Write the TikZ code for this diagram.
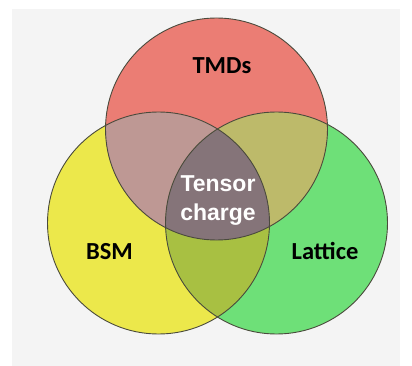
\documentclass[tikz,border=0pt]{standalone}
\usepackage{fontspec}
\setmainfont{Carlito}
\newfontfamily\midfont{Liberation Sans}
\definecolor{bg}{HTML}{F4F4F4}
\definecolor{cred}{HTML}{EB7D74}
\definecolor{cyel}{HTML}{ECE84B}
\definecolor{cgrn}{HTML}{6EE078}
\definecolor{cry}{HTML}{BE9894}
\definecolor{crg}{HTML}{BDBA6A}
\definecolor{cyg}{HTML}{A8C042}
\definecolor{cmid}{HTML}{857479}
\definecolor{edge}{HTML}{4A4A3C}
\tikzset{
  lbl/.style={font=\bfseries\fontsize{24.5}{26}\selectfont, text=black},
  midlbl/.style={font=\midfont\bfseries\fontsize{23}{29}\selectfont, text=white, align=center},
  rim/.style={draw=edge, line width=0.9pt}
}
\begin{document}
\begin{tikzpicture}[x=1pt,y=-1pt]
\useasboundingbox (0,0) rectangle (412,366);
\fill[white] (0,0) rectangle (412,366);
\fill[bg] (12,9) rectangle (400,366);
\def\R{111}
\coordinate (cr) at (216.5,129);
\coordinate (cy) at (158.5,223);
\coordinate (cg) at (276.5,223);
% base fills
\fill[cyel] (cy) circle (\R);
\fill[cgrn] (cg) circle (\R);
\fill[cred] (cr) circle (\R);
% pairwise overlaps
\begin{scope}
  \clip (cr) circle (\R);
  \fill[cry] (cy) circle (\R);
\end{scope}
\begin{scope}
  \clip (cr) circle (\R);
  \fill[crg] (cg) circle (\R);
\end{scope}
\begin{scope}
  \clip (cy) circle (\R);
  \fill[cyg] (cg) circle (\R);
\end{scope}
\begin{scope}
  \clip (cr) circle (\R);
  \clip (cy) circle (\R);
  \fill[cmid] (cg) circle (\R);
\end{scope}
% outlines
\draw[rim] (cy) circle (\R);
\draw[rim] (cg) circle (\R);
\draw[rim] (cr) circle (\R);
% labels
\node[lbl] (tmds) at (222,66) {TMDs};
\node[lbl] (bsm) at (109.5,252) {BSM};
\node[lbl] (lat) at (325,251) {Lattice};
\node[midlbl] (tc) at (218,201) {Tensor\\charge};
\end{tikzpicture}
\end{document}
